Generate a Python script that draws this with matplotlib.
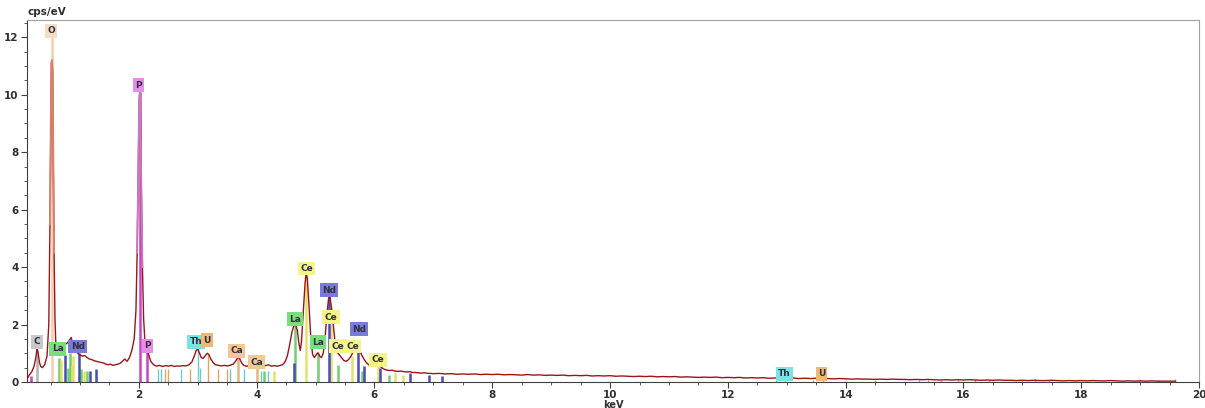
import matplotlib
matplotlib.use('Agg')
import matplotlib.pyplot as plt
import numpy as np

# spectrum, 0.1 - 7 keV
spec_kev = [0.10, 0.14, 0.18, 0.22, 0.25, 0.27, 0.29, 0.31, 0.33, 0.36, 0.40, 0.44,
            0.47, 0.49, 0.505, 0.515, 0.525, 0.535, 0.545, 0.56, 0.575, 0.59,
            0.62, 0.66, 0.70, 0.74, 0.78, 0.82, 0.85, 0.88, 0.92, 0.96, 1.00, 1.04,
            1.08, 1.12, 1.16, 1.20, 1.24, 1.28, 1.32, 1.36, 1.40, 1.44, 1.48, 1.52,
            1.56, 1.60, 1.64, 1.68, 1.72, 1.76, 1.80, 1.84, 1.88, 1.92, 1.95, 1.97,
            1.99, 2.005, 2.015, 2.025, 2.04, 2.06, 2.08, 2.10, 2.13, 2.16, 2.20,
            2.25, 2.30, 2.35, 2.40, 2.45, 2.50, 2.55, 2.60, 2.65, 2.70, 2.75, 2.80,
            2.85, 2.90, 2.94, 2.97, 3.00, 3.03, 3.06, 3.09, 3.12, 3.16, 3.19, 3.22,
            3.26, 3.30, 3.35, 3.40, 3.45, 3.50, 3.55, 3.60, 3.64, 3.68, 3.71, 3.74,
            3.78, 3.82, 3.86, 3.90, 3.95, 4.00, 4.03, 4.06, 4.10, 4.15, 4.20, 4.25,
            4.30, 4.35, 4.40, 4.44, 4.48, 4.52, 4.56, 4.60, 4.63, 4.66, 4.69, 4.72,
            4.74, 4.76, 4.79, 4.82, 4.84, 4.86, 4.89, 4.92, 4.95, 4.98, 5.01, 5.04,
            5.07, 5.10, 5.13, 5.16, 5.19, 5.22, 5.24, 5.27, 5.30, 5.33, 5.36, 5.40,
            5.44, 5.48, 5.52, 5.56, 5.60, 5.64, 5.68, 5.72, 5.75, 5.78, 5.82, 5.86,
            5.90, 5.95, 6.00, 6.05, 6.08, 6.12, 6.16, 6.20, 6.25, 6.30, 6.35, 6.40,
            6.45, 6.50, 6.55, 6.60, 6.65, 6.70, 6.75, 6.80, 6.85, 6.90, 6.95]
spec_cps = [0.10, 0.25, 0.35, 0.55, 0.85, 1.15, 1.00, 0.70, 0.55, 0.50, 0.60, 0.90,
            2.0, 5.5, 9.0, 11.1, 11.2, 10.8, 8.0, 4.5, 2.2, 1.3,
            1.00, 1.05, 1.20, 1.30, 1.35, 1.45, 1.55, 1.30, 1.10, 1.00, 0.95, 0.90,
            0.92, 0.85, 0.80, 0.78, 0.74, 0.72, 0.70, 0.68, 0.66, 0.62, 0.60, 0.62,
            0.58, 0.60, 0.62, 0.65, 0.72, 0.80, 0.72, 0.85, 1.10, 1.50, 2.5, 4.5,
            7.5, 9.8, 10.1, 9.5, 7.0, 4.0, 2.2, 1.5, 1.2, 1.0, 0.72,
            0.60, 0.55, 0.58, 0.54, 0.57, 0.55, 0.58, 0.54, 0.56, 0.55, 0.57, 0.56,
            0.60, 0.70, 0.90, 1.08, 1.15, 1.00, 0.85, 0.82, 0.90, 1.00, 0.95, 0.80,
            0.68, 0.60, 0.58, 0.56, 0.58, 0.56, 0.58, 0.62, 0.72, 0.85, 0.82, 0.68,
            0.58, 0.55, 0.56, 0.55, 0.57, 0.60, 0.62, 0.56, 0.55, 0.57, 0.60, 0.55,
            0.57, 0.55, 0.58, 0.60, 0.70, 0.90, 1.30, 1.75, 1.95, 2.00, 1.80, 1.30,
            1.10, 1.40, 2.40, 3.40, 3.80, 3.60, 2.60, 1.50, 0.95, 0.85, 0.95, 1.02,
            0.90, 0.85, 1.00, 1.50, 2.30, 2.90, 3.00, 2.60, 2.00, 1.40, 1.05, 0.95,
            0.85, 0.75, 0.72, 0.78, 0.90, 1.05, 1.15, 1.20, 1.10, 0.95, 0.80, 0.68,
            0.60, 0.55, 0.55, 0.60, 0.58, 0.50, 0.45, 0.42, 0.40, 0.41, 0.38, 0.37,
            0.38, 0.36, 0.35, 0.36, 0.33, 0.33, 0.32, 0.31, 0.32, 0.30, 0.30]

# tail, one value per 0.1 keV from 7.0 to 19.6 keV
tail_kev = np.round(np.arange(7.0, 19.65, 0.1), 1)
tail_cps = [0.29, 0.30, 0.28, 0.29, 0.27, 0.28, 0.27, 0.28, 0.26, 0.27,
            0.26, 0.27, 0.25, 0.26, 0.25, 0.24, 0.26, 0.24, 0.25, 0.23,
            0.24, 0.23, 0.24, 0.22, 0.23, 0.22, 0.23, 0.21, 0.22, 0.21,
            0.22, 0.20, 0.21, 0.20, 0.19, 0.20, 0.19, 0.20, 0.18, 0.19,
            0.18, 0.19, 0.17, 0.18, 0.17, 0.16, 0.17, 0.16, 0.17, 0.15,
            0.16, 0.15, 0.16, 0.14, 0.15, 0.14, 0.15, 0.13, 0.14, 0.14,
            0.13, 0.14, 0.12, 0.13, 0.12, 0.13, 0.11, 0.12, 0.11, 0.12,
            0.11, 0.10, 0.11, 0.10, 0.10, 0.09, 0.10, 0.09, 0.10, 0.09,
            0.09, 0.08, 0.09, 0.08, 0.09, 0.08, 0.07, 0.08, 0.07, 0.08,
            0.07, 0.08, 0.07, 0.06, 0.07, 0.06, 0.07, 0.06, 0.06, 0.05,
            0.06, 0.05, 0.06, 0.05, 0.05, 0.06, 0.05, 0.04, 0.05, 0.04,
            0.05, 0.04, 0.05, 0.04, 0.04, 0.05, 0.04, 0.03, 0.04, 0.03,
            0.04, 0.03, 0.04, 0.03, 0.03, 0.03, 0.03]

# element marker lines (keV, height)
c_lines = [(0.277, 1.15)]
o_lines = [(0.525, 12.0)]
p_lines = [(0.17, 0.2), (2.013, 10.1), (2.139, 1.2)]
la_lines = [(0.64, 0.85), (0.80, 0.5), (0.833, 1.0), (1.02, 0.45), (1.12, 0.4),
            (4.12, 0.4), (4.651, 2.0), (5.042, 1.0), (5.384, 0.6), (5.79, 0.4), (6.25, 0.25)]
ce_lines = [(0.676, 0.75), (0.86, 0.55), (0.883, 0.9), (1.07, 0.4),
            (4.29, 0.4), (4.84, 3.8), (5.262, 2.0), (5.613, 0.9), (6.052, 0.65), (6.34, 0.3), (6.48, 0.25)]
nd_lines = [(0.74, 0.95), (0.978, 1.0), (1.17, 0.4), (1.28, 0.45),
            (4.63, 0.65), (5.23, 3.0), (5.722, 1.3), (5.83, 0.55), (6.09, 0.5),
            (6.60, 0.3), (6.93, 0.25), (7.14, 0.2)]
th_lines = [(2.33, 0.45), (2.37, 0.45), (2.72, 0.45), (2.996, 1.15), (3.03, 0.5),
            (3.55, 0.45), (3.78, 0.45), (4.07, 0.4), (4.20, 0.4),
            (12.81, 0.06), (12.97, 0.1), (14.5, 0.06), (15.24, 0.07), (15.62, 0.08),
            (16.2, 0.1), (17.0, 0.06), (18.98, 0.1), (19.3, 0.07), (19.6, 0.09)]
u_lines = [(2.44, 0.45), (2.50, 0.45), (2.86, 0.45), (3.171, 1.0), (3.337, 0.45),
           (3.50, 0.45), (13.44, 0.06), (13.61, 0.1), (15.4, 0.06), (15.9, 0.06),
           (16.43, 0.07), (17.22, 0.1), (17.45, 0.06)]
ca_lines = [(3.69, 0.85), (4.01, 0.55)]

line_sets = [('C', c_lines), ('O', o_lines), ('P', p_lines), ('La', la_lines),
             ('Ce', ce_lines), ('Nd', nd_lines), ('Th', th_lines), ('U', u_lines),
             ('Ca', ca_lines)]

line_col = {'C': '#b4b4b4', 'O': '#f2cfae', 'P': '#c448c4', 'La': '#70d070',
            'Ce': '#e2e26a', 'Nd': '#4a4ab4', 'Th': '#6ccad2', 'U': '#e0a464',
            'Ca': '#e4b878'}
box_col = {'C': '#c8c8c8', 'O': '#f4dcc4', 'P': '#e88ce8', 'La': '#78e078',
           'Ce': '#f4f488', 'Nd': '#7a7ad8', 'Th': '#78e4e4', 'U': '#f0b878',
           'Ca': '#f4c890'}

# labels (text, keV, cps)
label_text = ['C', 'O', 'La', 'Nd', 'P', 'P', 'Th', 'U', 'Ca', 'Ca', 'La', 'Ce', 'Nd',
              'Ce', 'La', 'Ce', 'Ce', 'Nd', 'Ce', 'Th', 'U']
label_kev = [0.27, 0.51, 0.62, 0.96, 2.00, 2.14, 2.97, 3.16, 3.66, 4.00, 4.65, 4.85,
             5.23, 5.26, 5.04, 5.38, 5.63, 5.74, 6.06, 12.96, 13.59]
label_cps = [1.40, 12.22, 1.15, 1.23, 10.33, 1.26, 1.40, 1.46, 1.08, 0.69, 2.19, 3.95,
             3.20, 2.26, 1.39, 1.25, 1.23, 1.84, 0.77, 0.28, 0.28]

fig = plt.figure(figsize=(12.05, 4.08), dpi=100)
ax = fig.add_axes([27 / 1205, 26 / 408, 1172 / 1205, 362 / 408])

for el, lines in line_sets:
    xs = [l[0] for l in lines]
    hs = [l[1] for l in lines]
    lw = 1.0 if el in ('Th', 'U') else 1.8
    ax.vlines(xs, 0, hs, colors=line_col[el], linewidth=lw, zorder=1)

kev_all = np.concatenate([spec_kev, tail_kev])
cps_all = np.concatenate([spec_cps, tail_cps])
ax.plot(kev_all, cps_all, color='#9c1418', linewidth=1.0, zorder=3)

# peak colouring like the esprit display
kev_arr = np.array(spec_kev)
cps_arr = np.array(spec_cps)
m = (kev_arr >= 0.49) & (kev_arr <= 0.56)
ax.plot(kev_arr[m], cps_arr[m], color='#d8826e', linewidth=1.4, zorder=4)
m = (kev_arr >= 1.97) & (kev_arr <= 2.06)
ax.plot(kev_arr[m], cps_arr[m], color='#c67ac0', linewidth=1.3, zorder=4)

for t, x, y in zip(label_text, label_kev, label_cps):
    ax.text(x, y, t, ha='center', va='center', fontsize=6.5, fontweight='bold',
            color='#303040', zorder=6,
            bbox=dict(boxstyle='square,pad=0.25', fc=box_col[t], ec='none'))

ax.set_xlim(0.1, 20)
ax.set_ylim(0, 12.6)
ax.set_xticks([2, 4, 6, 8, 10, 12, 14, 16, 18, 20])
ax.set_xticks(np.arange(0.5, 20, 0.5), minor=True)
ax.set_yticks([0, 2, 4, 6, 8, 10, 12])
ax.set_yticks(np.arange(0.5, 12.6, 0.5), minor=True)
ax.tick_params(axis='both', which='major', length=4, width=0.8, labelsize=7.5,
               color='#404040', pad=2)
ax.tick_params(axis='both', which='minor', length=2.5, width=0.6, color='#404040')
for lab in ax.get_xticklabels() + ax.get_yticklabels():
    lab.set_fontweight('bold')
    lab.set_color('#303030')

ax.spines['left'].set_color('#404040')
ax.spines['bottom'].set_color('#404040')
ax.spines['top'].set_color('#a0a0a0')
ax.spines['right'].set_color('#a0a0a0')
for s in ax.spines.values():
    s.set_linewidth(0.8)

ax.set_xlabel('keV', fontsize=7, fontweight='bold', color='#303030', labelpad=0)
fig.text(28 / 1205, 1 - 12 / 408, 'cps/eV', fontsize=7.5, fontweight='bold',
         color='#303030', ha='left', va='center')

fig.savefig('out.png', dpi=100)
